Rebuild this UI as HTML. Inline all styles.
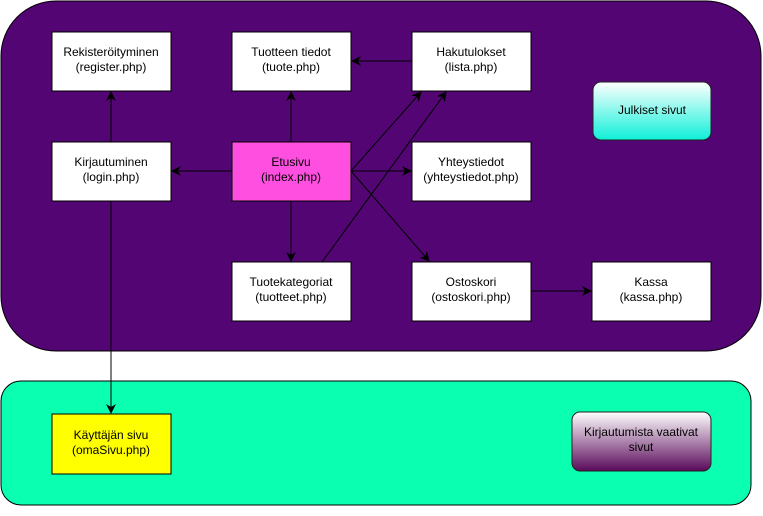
<!DOCTYPE html>
<html><head><meta charset="utf-8"><style>
body{margin:0;background:#fff;width:763px;height:511px;overflow:hidden}
</style></head><body>
<svg width="763" height="511" xmlns="http://www.w3.org/2000/svg" font-family="Liberation Sans, sans-serif" font-size="12">
<defs>
<marker id="a" markerWidth="10" markerHeight="10" refX="9" refY="5" orient="auto" markerUnits="userSpaceOnUse">
<path d="M0,0 L10,5 L0,10 L3,5 z" fill="#000"/></marker>
<linearGradient id="g1" x1="0" y1="0" x2="0" y2="1"><stop offset="0" stop-color="#fff"/><stop offset="1" stop-color="#0ff0d8"/></linearGradient>
<linearGradient id="g2" x1="0" y1="0" x2="0" y2="1"><stop offset="0" stop-color="#fff"/><stop offset="1" stop-color="#5a0a5a"/></linearGradient>
</defs>
<rect x="1" y="1" width="760" height="350" rx="55" fill="#520573" stroke="#000"/>
<rect x="1" y="381" width="750" height="124" rx="20" fill="#0affb0" stroke="#000"/>
<g stroke="#000" fill="none" stroke-width="1">
<line x1="291" y1="142" x2="291" y2="92" marker-end="url(#a)"/>
<line x1="412" y1="61" x2="352" y2="61" marker-end="url(#a)"/>
<line x1="232" y1="171" x2="172" y2="171" marker-end="url(#a)"/>
<line x1="111" y1="142" x2="111" y2="92" marker-end="url(#a)"/>
<line x1="111" y1="201" x2="111" y2="413" marker-end="url(#a)"/>
<line x1="291" y1="201" x2="291" y2="261" marker-end="url(#a)"/>
<line x1="351" y1="171" x2="411" y2="171" marker-end="url(#a)"/>
<line x1="351" y1="171" x2="421" y2="92" marker-end="url(#a)"/>
<line x1="351" y1="171" x2="429" y2="261" marker-end="url(#a)"/>
<line x1="322" y1="262" x2="446" y2="92" marker-end="url(#a)"/>
<line x1="531" y1="291" x2="591" y2="291" marker-end="url(#a)"/>
</g>
<g stroke="#000" fill="#fff">
<rect x="52" y="32" width="119" height="59"/>
<rect x="232" y="32" width="119" height="59"/>
<rect x="412" y="32" width="119" height="59"/>
<rect x="52" y="142" width="119" height="59"/>
<rect x="232" y="142" width="119" height="59" fill="#ff4fe0"/>
<rect x="412" y="142" width="119" height="59"/>
<rect x="232" y="262" width="119" height="59"/>
<rect x="412" y="262" width="119" height="59"/>
<rect x="592" y="262" width="119" height="59"/>
<rect x="52" y="414" width="119" height="60" fill="#ffff00"/>
<rect x="593" y="82" width="118" height="58" rx="8" fill="url(#g1)" stroke="#222"/>
<rect x="572" y="412" width="139" height="59" rx="8" fill="url(#g2)" stroke="#222"/>
</g>
<g text-anchor="middle" fill="#000">
<text x="111" y="56">Rekisteröityminen</text><text x="111" y="71">(register.php)</text>
<text x="291" y="56">Tuotteen tiedot</text><text x="291" y="71">(tuote.php)</text>
<text x="471" y="56">Hakutulokset</text><text x="471" y="71">(lista.php)</text>
<text x="111" y="166">Kirjautuminen</text><text x="111" y="181">(login.php)</text>
<text x="291" y="166">Etusivu</text><text x="291" y="181">(index.php)</text>
<text x="471" y="166">Yhteystiedot</text><text x="471" y="181">(yhteystiedot.php)</text>
<text x="291" y="286">Tuotekategoriat</text><text x="291" y="301">(tuotteet.php)</text>
<text x="471" y="286">Ostoskori</text><text x="471" y="301">(ostoskori.php)</text>
<text x="651" y="286">Kassa</text><text x="651" y="301">(kassa.php)</text>
<text x="652" y="114">Julkiset sivut</text>
<text x="111" y="439">Käyttäjän sivu</text><text x="111" y="454">(omaSivu.php)</text>
<text x="641" y="436">Kirjautumista vaativat</text><text x="641" y="451">sivut</text>
</g>
</svg>
</body></html>
